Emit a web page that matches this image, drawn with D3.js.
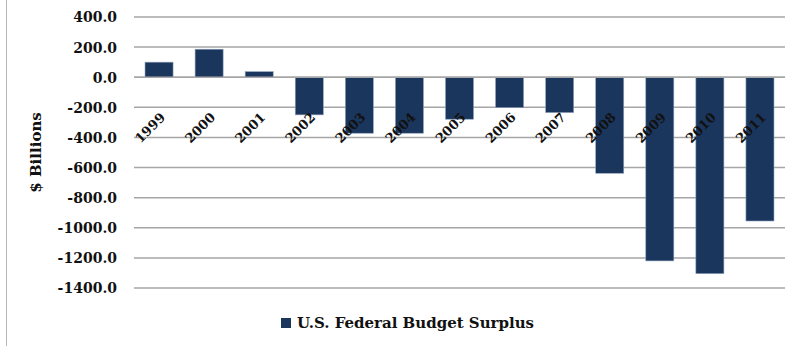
<!DOCTYPE html>
<html>
<head>
<meta charset="utf-8">
<script src="https://cdn.jsdelivr.net/npm/d3@7"></script>
<style>
  html, body { margin: 0; padding: 0; background: #fff; }
  svg { display: block; }
  text { font-family: "DejaVu Serif", "Liberation Serif", serif; font-weight: bold; fill: #111; }
</style>
</head>
<body>
<svg id="chart" width="791" height="346"></svg>
<script>
// U.S. federal budget surplus / deficit, $ billions
const years = ["1999", "2000", "2001", "2002", "2003", "2004", "2005", "2006", "2007", "2008", "2009", "2010", "2011"];
const surplus = [100, 186, 37, -250, -372, -372, -279, -202, -235, -638, -1220, -1305, -955];
const yTicks = [400, 200, 0, -200, -400, -600, -800, -1000, -1200, -1400];
const seriesName = "U.S. Federal Budget Surplus";
const yTitle = "$ Billions";

const svg = d3.select("#chart");
const W = 791, H = 346;
const plot = { left: 134, right: 785, top: 17, bottom: 288 };
const barColor = "#1b365d";

// frame edge on the left
svg.append("line")
  .attr("x1", 6.5).attr("x2", 6.5).attr("y1", 0).attr("y2", H)
  .attr("stroke", "#b8b8b8").attr("stroke-width", 1);

const x = d3.scaleBand().domain(years).range([plot.left, plot.right]).paddingInner(0.44).paddingOuter(0.22);
const y = d3.scaleLinear().domain([-1400, 400]).range([plot.bottom, plot.top]);

// horizontal gridlines
svg.append("g").selectAll("line").data(yTicks).join("line")
  .attr("x1", plot.left).attr("x2", plot.right)
  .attr("y1", d => y(d)).attr("y2", d => y(d))
  .attr("stroke", "#a6a6a6").attr("stroke-width", 1.5);

// y axis tick labels
const yAxis = d3.axisLeft(y).tickValues(yTicks).tickSize(0).tickPadding(0)
  .tickFormat(d3.format(".1f"));
const gy = svg.append("g").attr("transform", `translate(${plot.left - 17},0)`).call(yAxis);
gy.select(".domain").remove();
gy.selectAll("text")
  .attr("font-family", "DejaVu Serif").attr("font-weight", "bold")
  .attr("font-size", 14).attr("fill", "#111").attr("dy", "0.35em")
  .text(d => d3.format(".1f")(d).replace("−", "-"));

// bars
svg.append("g").selectAll("rect").data(years).join("rect")
  .attr("x", d => x(d))
  .attr("width", x.bandwidth())
  .attr("y", (d, i) => y(Math.max(0, surplus[i])))
  .attr("height", (d, i) => Math.abs(y(surplus[i]) - y(0)))
  .attr("fill", barColor)
  .attr("stroke", "#8fa3bd").attr("stroke-width", 0.6);

// zero line drawn over the bars
svg.append("line")
  .attr("x1", plot.left).attr("x2", plot.right)
  .attr("y1", y(0)).attr("y2", y(0))
  .attr("stroke", "#a6a6a6").attr("stroke-width", 1.5);

// rotated category labels
const xAxis = d3.axisBottom(x).tickSize(0).tickPadding(0);
const gx = svg.append("g").attr("transform", `translate(0,${y(0) + 41})`).call(xAxis);
gx.select(".domain").remove();
gx.selectAll("text")
  .attr("font-family", "DejaVu Serif").attr("font-weight", "bold")
  .attr("font-size", 13).attr("fill", "#111")
  .attr("text-anchor", "end").attr("dy", 0).attr("y", 0)
  .attr("transform", "translate(7,0) rotate(-45)");

// y axis title
svg.append("text")
  .attr("transform", `translate(41,${(plot.top + plot.bottom) / 2}) rotate(-90)`)
  .attr("text-anchor", "middle")
  .attr("font-size", 15)
  .text(yTitle);

// legend
const lg = svg.append("g").attr("transform", "translate(281,318)");
lg.append("rect").attr("width", 10).attr("height", 10).attr("fill", barColor);
lg.append("text").attr("x", 16).attr("y", 10)
  .attr("font-size", 15)
  .text(seriesName);
</script>
</body>
</html>
